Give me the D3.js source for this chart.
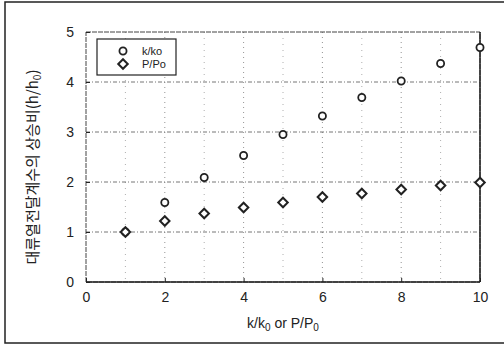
<!DOCTYPE html>
<html>
<head>
<meta charset="utf-8">
<script src="https://cdn.jsdelivr.net/npm/d3@7"></script>
<style>
  body { margin: 0; background: #fff; }
  svg { display: block; }
</style>
</head>
<body>
<div id="chart"></div>
<script>
// ratio values
const xVals = [1, 2, 3, 4, 5, 6, 7, 8, 9, 10];
const kRatio = [1.0, 1.59, 2.09, 2.53, 2.95, 3.32, 3.69, 4.02, 4.37, 4.69];
const pRatio = [1.0, 1.22, 1.37, 1.49, 1.59, 1.70, 1.77, 1.85, 1.93, 1.99];
const xTicks = [0, 2, 4, 6, 8, 10];
const yTicks = [0, 1, 2, 3, 4, 5];

const W = 504, H = 347;
const marginLeft = 86, marginRight = 24, marginTop = 32, marginBottom = 65;
const width = W - marginLeft - marginRight;
const height = H - marginTop - marginBottom;
const ink = "#222";

const svg = d3.select("#chart").append("svg")
  .attr("width", W).attr("height", H);

// outer frame of the scanned figure
svg.append("rect")
  .attr("x", 5).attr("y", 2).attr("width", W - 4).attr("height", 341)
  .attr("fill", "none").attr("stroke", ink).attr("stroke-width", 1.5);

const g = svg.append("g").attr("transform", `translate(${marginLeft},${marginTop})`);

const x = d3.scaleLinear().domain([0, 10]).range([0, width]);
const y = d3.scaleLinear().domain([0, 5]).range([height, 0]);

// minor dotted grid
g.append("g").selectAll("line")
  .data(d3.range(1, 10, 2))
  .enter().append("line")
  .attr("x1", d => x(d)).attr("x2", d => x(d))
  .attr("y1", 0).attr("y2", height)
  .attr("stroke", "#999").attr("stroke-width", 0.8).attr("stroke-dasharray", "1,5");

// major grid, dash-dot
g.append("g").selectAll("line")
  .data(xTicks.slice(1, -1))
  .enter().append("line")
  .attr("x1", d => x(d)).attr("x2", d => x(d))
  .attr("y1", 0).attr("y2", height)
  .attr("stroke", "#777").attr("stroke-width", 0.8).attr("stroke-dasharray", "1,4");

g.append("g").selectAll("line")
  .data(yTicks.slice(1, -1))
  .enter().append("line")
  .attr("x1", 0).attr("x2", width)
  .attr("y1", d => y(d)).attr("y2", d => y(d))
  .attr("stroke", "#666").attr("stroke-width", 0.9).attr("stroke-dasharray", "4,2,1,2");

// plot box
g.append("rect")
  .attr("x", 0).attr("y", 0).attr("width", width).attr("height", height)
  .attr("fill", "none").attr("stroke", "#444").attr("stroke-width", 1)
  .attr("stroke-dasharray", "5,1");
g.append("line")
  .attr("x1", 0).attr("x2", width).attr("y1", height).attr("y2", height)
  .attr("stroke", ink).attr("stroke-width", 1.5);
g.append("line")
  .attr("x1", width).attr("x2", width).attr("y1", 0).attr("y2", height)
  .attr("stroke", ink).attr("stroke-width", 1.5);

// axes (labels only, ticks inside)
const xAxis = g.append("g")
  .attr("transform", `translate(0,${height})`)
  .call(d3.axisBottom(x).tickValues(xTicks).tickFormat(d3.format("d")).tickSize(-4).tickPadding(10));
const yAxis = g.append("g")
  .call(d3.axisLeft(y).tickValues(yTicks).tickFormat(d3.format("d")).tickSize(-4).tickPadding(12));
[xAxis, yAxis].forEach(a => {
  a.select(".domain").remove();
  a.selectAll("line").attr("stroke", ink);
  a.selectAll("text")
    .attr("fill", ink)
    .style("font-family", "'Liberation Sans', Arial, sans-serif")
    .style("font-size", "14px");
});

// circles: k/k0
const symCircle = d3.symbol().type(d3.symbolCircle).size(40);
const symDiamond = d3.symbol().type(d3.symbolSquare).size(45);

g.append("g").selectAll("path")
  .data(xVals)
  .enter().append("path")
  .attr("transform", (d, i) => `translate(${x(d)},${y(kRatio[i])})`)
  .attr("d", symCircle)
  .attr("fill", "#fff").attr("stroke", ink).attr("stroke-width", 1.8);

g.append("g").selectAll("path")
  .data(xVals)
  .enter().append("path")
  .attr("transform", (d, i) => `translate(${x(d)},${y(pRatio[i])}) rotate(45)`)
  .attr("d", symDiamond)
  .attr("fill", "#fff").attr("stroke", ink).attr("stroke-width", 2);

// legend
const lg = svg.append("g").attr("transform", "translate(97,39)");
lg.append("rect")
  .attr("width", 79).attr("height", 36)
  .attr("fill", "#fff").attr("stroke", ink).attr("stroke-width", 1.2);
lg.append("path").attr("transform", "translate(26,12)")
  .attr("d", symCircle).attr("fill", "#fff").attr("stroke", ink).attr("stroke-width", 1.8);
lg.append("path").attr("transform", "translate(26,25) rotate(45)")
  .attr("d", symDiamond).attr("fill", "#fff").attr("stroke", ink).attr("stroke-width", 2);
const legendText = lg.append("g")
  .style("font-family", "'Liberation Sans', Arial, sans-serif")
  .style("font-size", "11px").attr("fill", ink);
legendText.append("text").attr("x", 45).attr("y", 16).text("k/ko");
legendText.append("text").attr("x", 45).attr("y", 29).text("P/Po");

// x axis title with subscripts
const xt = svg.append("text")
  .attr("x", marginLeft + width / 2).attr("y", 328)
  .attr("text-anchor", "middle").attr("fill", ink)
  .style("font-family", "'Liberation Sans', Arial, sans-serif")
  .style("font-size", "14px");
xt.append("tspan").text("k/k");
xt.append("tspan").attr("dy", 3).style("font-size", "10px").text("0");
xt.append("tspan").attr("dy", -3).text(" or P/P");
xt.append("tspan").attr("dy", 3).style("font-size", "10px").text("0");

// y axis title
const yt = svg.append("text")
  .attr("transform", `translate(38,${marginTop + height / 2 + 10}) rotate(-90)`)
  .attr("text-anchor", "middle").attr("fill", ink)
  .style("font-family", "'Noto Sans CJK KR', sans-serif")
  .style("font-size", "15px");
yt.append("tspan").text("대류열전달계수의 상승비(h/h");
yt.append("tspan").attr("dy", 3).style("font-size", "10px").text("0");
yt.append("tspan").attr("dy", -3).text(")");
</script>
</body>
</html>
